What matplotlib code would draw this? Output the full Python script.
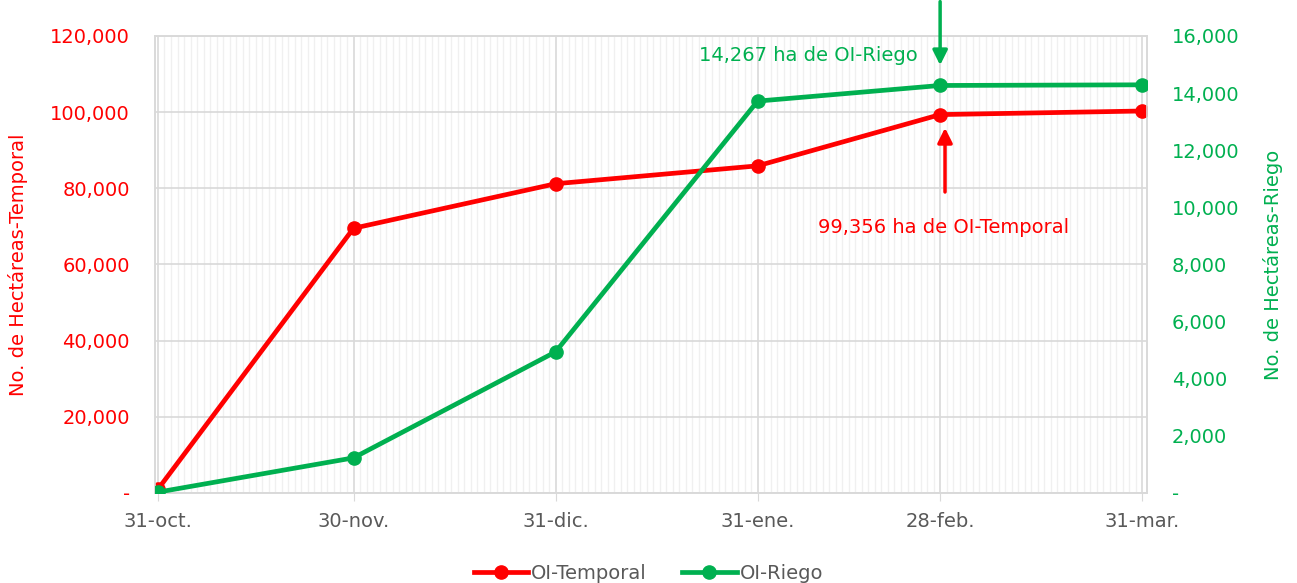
import pandas as pd
import matplotlib.pyplot as plt
import matplotlib.dates as mdates
from matplotlib.ticker import FuncFormatter, MultipleLocator

plt.rcParams['font.family'] = ['DejaVu Sans']

# datos
fechas = pd.to_datetime(['2022-10-31', '2022-11-30', '2022-12-31',
                         '2023-01-31', '2023-02-28', '2023-03-31'])
etiquetas = ['31-oct.', '30-nov.', '31-dic.', '31-ene.', '28-feb.', '31-mar.']
temporal = [1000, 69500, 81200, 85900, 99356, 100300]
riego = [30, 1230, 4940, 13720, 14267, 14290]

rojo = '#ff0000'
verde = '#00b050'
gris = '#595959'
fs = 14

fig = plt.figure(figsize=(12.97, 5.83), dpi=100)
ax1 = fig.add_axes([0.1195, 0.1544, 0.7649, 0.7839])
ax2 = ax1.twinx()

def miles(v, pos):
    return '-' if v == 0 else f'{v:,.0f}'

ax1.plot(fechas, temporal, '-o', color=rojo, lw=3.4, ms=9.5, label='OI-Temporal', zorder=3)
ax2.plot(fechas, riego, '-o', color=verde, lw=3.4, ms=9.5, label='OI-Riego', zorder=3)

ax1.set_xlim(fechas[0] - pd.Timedelta(hours=11), fechas[-1] + pd.Timedelta(hours=18))
ax1.set_ylim(0, 120000)
ax2.set_ylim(0, 16000)
ax1.yaxis.set_major_locator(MultipleLocator(20000))
ax2.yaxis.set_major_locator(MultipleLocator(2000))
ax1.yaxis.set_major_formatter(FuncFormatter(miles))
ax2.yaxis.set_major_formatter(FuncFormatter(miles))

ax1.set_xticks(fechas)
ax1.set_xticklabels(etiquetas)
ax1.xaxis.set_minor_locator(mdates.DayLocator())

# rejilla
ax1.grid(True, which='major', color='#d9d9d9', lw=1.2, zorder=0)
ax1.grid(True, which='minor', axis='x', color='#f0f0f0', lw=1, zorder=0)
ax1.set_axisbelow(True)
for a in (ax1, ax2):
    for s in a.spines.values():
        s.set_color('#d9d9d9')
        s.set_linewidth(1.2)

ax1.tick_params(axis='x', which='major', colors='#d9d9d9', labelcolor=gris,
                labelsize=fs, length=6, pad=8)
ax1.tick_params(axis='x', which='minor', length=0)
ax1.tick_params(axis='y', length=0, labelcolor=rojo, labelsize=fs, pad=18)
ax2.tick_params(axis='y', length=0, labelcolor=verde, labelsize=fs, pad=18)

ax1.set_ylabel('No. de Hectáreas-Temporal', color=rojo, fontsize=fs, labelpad=16)
ax2.set_ylabel('No. de Hectáreas-Riego', color=verde, fontsize=fs, labelpad=17)

# anotaciones
ax2.annotate('', xy=(fechas[4], 14880), xytext=(fechas[4], 17300),
             arrowprops=dict(arrowstyle='-|>', color=verde, lw=2.5, mutation_scale=22),
             annotation_clip=False)
ax2.text(fechas[4] - pd.Timedelta(days=3.5), 15330, '14,267 ha de OI-Riego',
         color=verde, fontsize=fs, ha='right', va='center')
ax1.annotate('', xy=(fechas[4] + pd.Timedelta(hours=18), 96600),
             xytext=(fechas[4] + pd.Timedelta(hours=18), 78300),
             arrowprops=dict(arrowstyle='-|>', color=rojo, lw=2.5, mutation_scale=22))
ax1.text(fechas[4] + pd.Timedelta(hours=12), 69800, '99,356 ha de OI-Temporal',
         color=rojo, fontsize=fs, ha='center', va='center')

# leyenda
l1, t1 = ax1.get_legend_handles_labels()
l2, t2 = ax2.get_legend_handles_labels()
fig.legend(l1 + l2, t1 + t2, loc='lower center', ncol=2, frameon=False,
           bbox_to_anchor=(0.5, -0.03), fontsize=fs, labelcolor=gris,
           handlelength=2.8, handletextpad=0.15, columnspacing=1.8)

fig.savefig('out.png', dpi=100)
